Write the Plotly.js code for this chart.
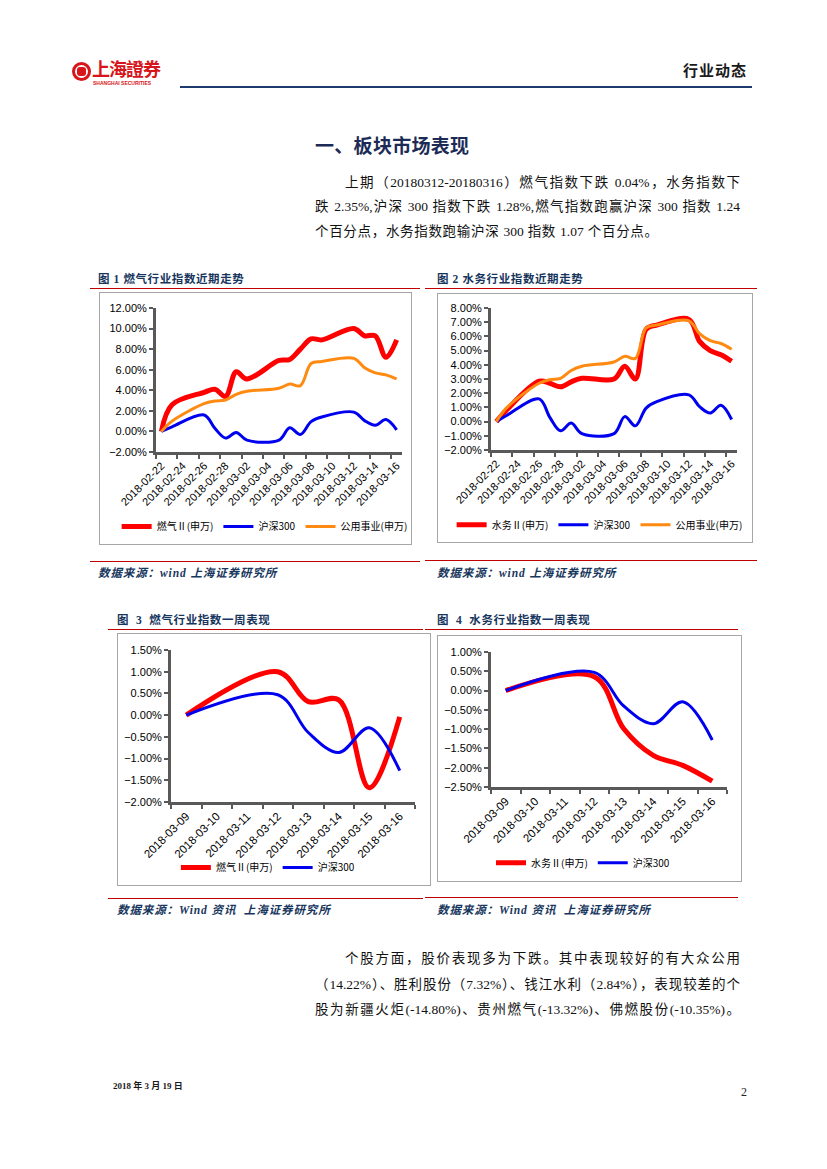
<!DOCTYPE html>
<html>
<head>
<meta charset="utf-8">
<script src="https://cdn.plot.ly/plotly-3.0.1.min.js"></script>
<style>
  html, body { margin:0; padding:0; background:#fff; }
  body { width:827px; height:1169px; position:relative; overflow:hidden; font-family:"Liberation Serif","Noto Sans CJK SC",serif; }
  .abs { position:absolute; }
  .para { position:absolute; font-size:13.5px; color:#111; white-space:nowrap; text-align:justify; text-align-last:justify; line-height:16px; font-family:"Liberation Serif","Noto Sans CJK SC",serif; }
  .cap { position:absolute; font-size:11.5px; font-weight:bold; color:#17365d; font-family:"Liberation Serif","Noto Sans CJK SC",serif; white-space:nowrap; letter-spacing:0.6px; }
  .src { position:absolute; font-size:11.5px; font-weight:bold; font-style:italic; color:#17365d; font-family:"Liberation Serif","Noto Sans CJK SC",serif; white-space:nowrap; letter-spacing:0.9px; }
  .rline { position:absolute; height:1px; background:#c00000; }
  .box { position:absolute; border:1.5px solid #a6a6a6; box-sizing:border-box; pointer-events:none; }
  .plot { position:absolute; }
</style>
</head>
<body>
<!-- header -->
<div class="abs" style="left:72px;top:62px;width:19px;height:19px;border-radius:50%;border:3px solid #d7141a;box-sizing:border-box;"></div>
<div class="abs" style="left:77px;top:67px;width:9px;height:9px;background:#d7141a;border-radius:3px;"></div>
<div class="abs" style="left:92px;top:58px;font-size:18px;font-weight:bold;color:#d7141a;font-family:'Noto Sans CJK TC';letter-spacing:-1px;line-height:21px;">上海證券</div>
<div class="abs" style="left:93px;top:80px;font-size:5px;font-weight:bold;color:#d7141a;font-family:'Liberation Sans';line-height:6px;">SHANGHAI SECURITIES</div>
<div class="abs" style="left:683px;top:60px;font-size:15px;font-weight:bold;color:#1a1a1a;font-family:'Noto Sans CJK SC';line-height:20px;letter-spacing:1px;">行业动态</div>
<div class="abs" style="left:180px;top:86px;width:572px;height:2px;background:#1f3a6e;"></div>

<!-- section title -->
<div class="abs" style="left:315px;top:132px;font-size:19px;font-weight:bold;color:#1c2b55;font-family:'Noto Sans CJK SC';line-height:25px;letter-spacing:0.3px;">一、板块市场表现</div>

<div class="para" style="left:345px;top:175px;width:395px;">上期（20180312-20180316）燃气指数下跌 0.04%，水务指数下</div>
<div class="para" style="left:315px;top:199px;width:425px;">跌 2.35%,沪深 300 指数下跌 1.28%,燃气指数跑赢沪深 300 指数 1.24</div>
<div class="para" style="left:315px;top:224px;width:343px;">个百分点，水务指数跑输沪深 300 指数 1.07 个百分点。</div>

<!-- captions row 1 -->
<div class="cap" style="left:98px;top:270px;">图 1 燃气行业指数近期走势</div>
<div class="rline" style="left:90px;top:288px;width:330px;"></div>
<div class="cap" style="left:437px;top:270px;">图 2 水务行业指数近期走势</div>
<div class="rline" style="left:425px;top:288px;width:332px;"></div>

<div class="plot" id="c1" style="left:99px;top:292px;width:313px;height:253px;"></div>
<div class="box" style="left:99px;top:292px;width:313px;height:253px;"></div>
<div class="plot" id="c2" style="left:437px;top:293px;width:316px;height:250px;"></div>
<div class="box" style="left:437px;top:293px;width:316px;height:250px;"></div>

<div class="rline" style="left:90px;top:561px;width:330px;"></div>
<div class="src" style="left:98px;top:564px;">数据来源：wind 上海证券研究所</div>
<div class="rline" style="left:425px;top:560px;width:332px;"></div>
<div class="src" style="left:437px;top:564px;">数据来源：wind 上海证券研究所</div>

<!-- captions row 2 -->
<div class="cap" style="left:117px;top:611px;">图&nbsp;&nbsp;3&nbsp;&nbsp;燃气行业指数一周表现</div>
<div class="rline" style="left:108px;top:629px;width:315px;"></div>
<div class="cap" style="left:437px;top:611px;">图&nbsp;&nbsp;4&nbsp;&nbsp;水务行业指数一周表现</div>
<div class="rline" style="left:425px;top:629px;width:313px;"></div>

<div class="plot" id="c3" style="left:117px;top:633px;width:314px;height:253px;"></div>
<div class="box" style="left:117px;top:633px;width:314px;height:253px;"></div>
<div class="plot" id="c4" style="left:437px;top:635px;width:305px;height:247px;"></div>
<div class="box" style="left:437px;top:635px;width:305px;height:247px;"></div>

<div class="rline" style="left:108px;top:898px;width:315px;"></div>
<div class="src" style="left:117px;top:901px;">数据来源：Wind 资讯&nbsp;&nbsp;上海证券研究所</div>
<div class="rline" style="left:425px;top:897px;width:313px;"></div>
<div class="src" style="left:437px;top:901px;">数据来源：Wind 资讯&nbsp;&nbsp;上海证券研究所</div>

<!-- paragraph 2 -->
<div class="para" style="left:345px;top:951px;width:395px;">个股方面，股价表现多为下跌。其中表现较好的有大众公用</div>
<div class="para" style="left:315px;top:977px;width:425px;">（14.22%）、胜利股份（7.32%）、钱江水利（2.84%），表现较差的个</div>
<div class="para" style="left:315px;top:1002px;width:425px;">股为新疆火炬(-14.80%)、贵州燃气(-13.32%)、佛燃股份(-10.35%)。</div>

<!-- footer -->
<div class="abs" style="left:113px;top:1079px;font-size:9px;font-weight:bold;color:#1a1a1a;font-family:'Liberation Serif','Noto Sans CJK SC';">2018 年 3 月 19 日</div>
<div class="abs" style="left:741px;top:1085px;font-size:12px;color:#222;font-family:'Liberation Serif';">2</div>

<script>
// ---------- data ----------
const dates = ['2018-02-22','2018-02-23','2018-02-26','2018-02-27','2018-02-28','2018-03-01','2018-03-02','2018-03-05','2018-03-06','2018-03-07','2018-03-08','2018-03-09','2018-03-12','2018-03-13','2018-03-14','2018-03-15','2018-03-16'];
const gasII   = [0, 2.6, 3.8, 4.1, 3.4, 5.8, 5.1, 6.9, 7.0, 8.0, 9.0, 8.9, 10.0, 9.3, 9.3, 7.2, 8.9];
const waterII = [0, 0.85, 2.85, 2.7, 2.45, 2.8, 3.05, 3.0, 3.9, 3.0, 6.5, 6.8, 7.2, 5.65, 5.0, 4.7, 4.25];
const hs300   = [0, 0.45, 1.6, 0.3, -0.65, -0.1, -0.85, -0.85, 0.35, -0.3, 0.95, 1.4, 1.88, 1.05, 0.6, 1.15, 0.15];
const utility = [0, 1.0, 2.7, 2.95, 3.05, 3.6, 3.9, 4.2, 4.6, 4.45, 6.6, 6.8, 7.1, 6.2, 5.7, 5.5, 5.1];

const weekCats  = ['2018-03-09','2018-03-10','2018-03-11','2018-03-12','2018-03-13','2018-03-14','2018-03-15','2018-03-16'];
const weekDates = ['2018-03-09','2018-03-12','2018-03-13','2018-03-14','2018-03-15','2018-03-16'];
const gasWeek   = [0, 1.0, 0.31, 0.35, -1.67, -0.04];
const waterWeek = [0, 0.36, -0.99, -1.68, -1.94, -2.35];
const hsWeek    = [0, 0.47, -0.40, -0.86, -0.29, -1.28];

const names1 = ['燃气Ⅱ(申万)', '沪深300', '公用事业(申万)'];
const names2 = ['水务Ⅱ(申万)', '沪深300', '公用事业(申万)'];

// ---------- styles ----------
const RED = '#ff0000', BLUE = '#0000f0', ORANGE = '#ff8a12', AX = '#595959';
const FONT = {family:'Liberation Sans, Noto Sans CJK SC, sans-serif', size:11, color:'#000'};
const DAY = 86400000;
const cfg = {displayModeBar:false, staticPlot:true};

function line(x, y, name, color, w) {
  return {x:x, y:y, name:name, type:'scatter', mode:'lines',
          line:{color:color, width:w, shape:'spline', smoothing:1}};
}
function yax(range, dtick) {
  return {range:range, dtick:dtick, tickformat:'.2f', ticksuffix:'%', ticks:'outside', ticklen:4,
          tickwidth:2, tickcolor:AX, showline:true, linewidth:3, linecolor:AX, showgrid:false,
          zeroline:false, fixedrange:true, tickfont:FONT, automargin:false};
}
function dateX() {
  return {type:'date', range:['2018-02-21 12:00','2018-03-16 12:00'], tickmode:'linear',
          tick0:dates[0], dtick:2*DAY, tickformat:'%Y-%m-%d', tickangle:-45, ticks:'',
          showline:true, linecolor:AX, linewidth:3, showgrid:false, zeroline:false, tickfont:FONT, automargin:false,
          minor:{ticks:'outside', tick0:'2018-02-21 12:00', dtick:2*DAY, ticklen:4, tickwidth:2, tickcolor:AX, showgrid:false}};
}
function catX() {
  return {type:'category', categoryorder:'array', categoryarray:weekCats, range:[-0.5, weekCats.length-0.5],
          tickmode:'array', tickvals:weekCats, ticktext:weekCats, tickangle:-45, ticks:'outside', tickson:'boundaries',
          ticklen:4, tickwidth:2, tickcolor:AX, showline:true, linecolor:AX, linewidth:3, showgrid:false, automargin:false,
          tickfont:Object.assign({}, FONT, {size:11.5})};
}
function legend(x, y) {
  return {orientation:'h', x:x, xanchor:'left', y:y, yanchor:'middle', font:{family:'Noto Sans CJK SC, Liberation Sans', size:10, color:'#000'},
          bgcolor:'rgba(0,0,0,0)', itemwidth:30, tracegroupgap:0};
}
function base(w, h, m) {
  m.autoexpand = false;
  return {width:w, height:h, margin:m, paper_bgcolor:'rgba(0,0,0,0)', plot_bgcolor:'rgba(0,0,0,0)', font:FONT, showlegend:true};
}

// Chart 1
Plotly.newPlot('c1', [
  line(dates, gasII, names1[0], RED, 5),
  line(dates, hs300, names1[1], BLUE, 3),
  line(dates, utility, names1[2], ORANGE, 3)
], Object.assign(base(313, 253, {l:57, r:10, t:16, b:93}), {
  xaxis:dateX(), yaxis:yax([-2, 12], 2), legend:legend(-0.16, -0.518)
}), cfg);

// Chart 2
Plotly.newPlot('c2', [
  line(dates, waterII, names2[0], RED, 5),
  line(dates, hs300, names2[1], BLUE, 3),
  line(dates, utility, names2[2], ORANGE, 3)
], Object.assign(base(316, 250, {l:54, r:16, t:15, b:93}), {
  xaxis:dateX(), yaxis:yax([-2, 8], 1), legend:legend(-0.16, -0.526)
}), cfg);

// Chart 3
Plotly.newPlot('c3', [
  line(weekDates, gasWeek, names1[0], RED, 5),
  line(weekDates, hsWeek, names1[1], BLUE, 3)
], Object.assign(base(314, 253, {l:54, r:16, t:17, b:84}), {
  xaxis:catX(), yaxis:yax([-2, 1.5], 0.5), legend:legend(0.02, -0.431)
}), cfg);

// Chart 4
Plotly.newPlot('c4', [
  line(weekDates, waterWeek, names2[0], RED, 5),
  line(weekDates, hsWeek, names2[1], BLUE, 3)
], Object.assign(base(305, 247, {l:54, r:15, t:17, b:95}), {
  xaxis:catX(), yaxis:yax([-2.5, 1.0], 0.5), legend:legend(0.0, -0.562)
}), cfg);
</script>
</body>
</html>
